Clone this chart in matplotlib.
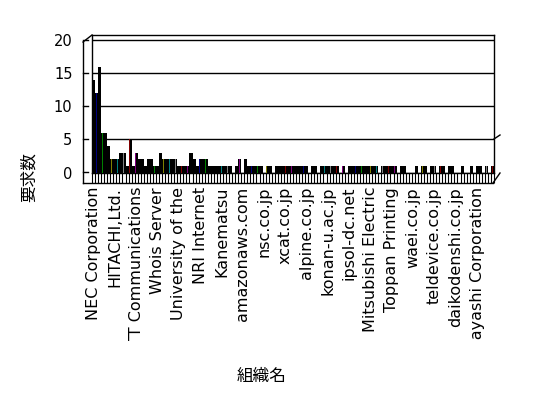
import numpy as np
import matplotlib
matplotlib.use("Agg")
import matplotlib.pyplot as plt
from matplotlib.lines import Line2D
from matplotlib.transforms import Bbox

plt.rcParams['font.family'] = ['DejaVu Sans', 'Noto Sans CJK JP']

W, H = 548, 398

# requests per organisation (132 organisations, sorted as in the source)
counts = [14, 12, 16, 6, 6, 4, 2, 2, 2, 3,
          3, 1, 5, 1, 3, 2, 2, 1, 2, 2,
          1, 1, 3, 2, 2, 2, 2, 2, 1, 1,
          1, 1, 3, 2, 1, 2, 2, 2, 1, 1,
          1, 1, 1, 1, 1, 1, 0, 1, 2, 0,
          2, 1, 1, 1, 1, 1, 0, 1, 1, 0,
          1, 1, 1, 1, 1, 1, 1, 1, 1, 1,
          1, 0, 1, 1, 0, 1, 1, 1, 1, 1,
          1, 0, 1, 0, 1, 1, 1, 1, 1, 1,
          1, 1, 1, 1, 0, 1, 1, 1, 1, 1,
          0, 1, 1, 0, 0, 0, 1, 0, 1, 1,
          0, 1, 1, 0, 1, 1, 0, 1, 1, 0,
          0, 1, 0, 0, 1, 0, 1, 1, 0, 1,
          0, 1]

# only every 7th organisation name is printed on the axis
shown_names = ["NEC Corporation", "HITACHI,Ltd.", "NTT Communications",
               "Whois Server", "University of the", "NRI Internet",
               "Kanematsu", "amazonaws.com", "nsc.co.jp", "xcat.co.jp",
               "alpine.co.jp", "konan-u.ac.jp", "ipsol-dc.net",
               "Mitsubishi Electric", "Toppan Printing", "waei.co.jp",
               "teldevice.co.jp", "daikodenshi.co.jp", "Obayashi Corporation"]
label_step = 7

y_ticks = [0, 5, 10, 15, 20]

# face colours peeking through the mostly black 3D columns
palette = [None, '#000080', None, '#008000', None, None, '#808000',
           None, '#008080', None, '#808080', None, '#800000', None,
           '#800080', None, None]

fig = plt.figure(figsize=(W / 100, H / 100), dpi=100)
fig.patch.set_facecolor('white')


def fx(x):
    return x / W


def fy(y):
    return 1 - y / H


def fline(x0, y0, x1, y1, lw=1.0):
    fig.add_artist(Line2D([fx(x0), fx(x1)], [fy(y0), fy(y1)],
                          transform=fig.transFigure, color='black', lw=lw))


# back wall of the pseudo-3D chart
ax = fig.add_axes([fx(92), fy(173), (494 - 92) / W, (173 - 35) / H])
n = len(counts)
x = np.arange(n)
ax.bar(x, counts, width=1.0, color='black', linewidth=0, zorder=3)
for i in range(n):
    c = palette[i % len(palette)]
    if c is not None and counts[i] > 0:
        ax.bar(x[i] - 0.1, counts[i], width=0.3, color=c, linewidth=0,
               zorder=4)

ax.set_xlim(-0.5, n - 0.5)
ax.set_ylim(-0.075, 20.755)
ax.set_yticks(y_ticks)
ax.set_yticklabels([str(v) for v in y_ticks], fontsize=10.5)
ax.yaxis.grid(True, color='black', linewidth=1)
ax.set_axisbelow(True)
ax.tick_params(axis='y', length=0, pad=14)

pos = list(range(0, n, label_step))[:len(shown_names)]
ax.set_xticks(pos)
ax.set_xticklabels(shown_names, rotation=90, fontsize=11.5, va='top',
                   ha='center')
ax.set_xticks(np.arange(-0.5, n, 1), minor=True)
ax.tick_params(axis='x', which='major', length=0, pad=10)
ax.tick_params(axis='x', which='minor', length=7.2, width=0.8,
               direction='out', color='black')
for s in ax.spines.values():
    s.set_color('black')
    s.set_linewidth(1)

clip = Bbox([[0, H - 341], [W, H]])
for lab in ax.get_xticklabels():
    lab.set_clip_box(clip)
    lab.set_clip_on(True)

# side wall and floor edges
fline(83, 42, 83, 183)
fline(83, 42, 92, 35)
for yy in [40, 73, 106, 139, 172]:
    fline(83, yy, 88, yy)
fline(83, 183, 493, 183)
fline(493, 183, 500, 173)
fline(494, 139, 500, 135)

fig.text(fx(29), fy(177), '要求数', rotation=90, fontsize=12,
         ha='center', va='center')
fig.text(fx(262), fy(376), '組織名', fontsize=12, ha='center', va='center')

fig.savefig('out.png', dpi=100)
